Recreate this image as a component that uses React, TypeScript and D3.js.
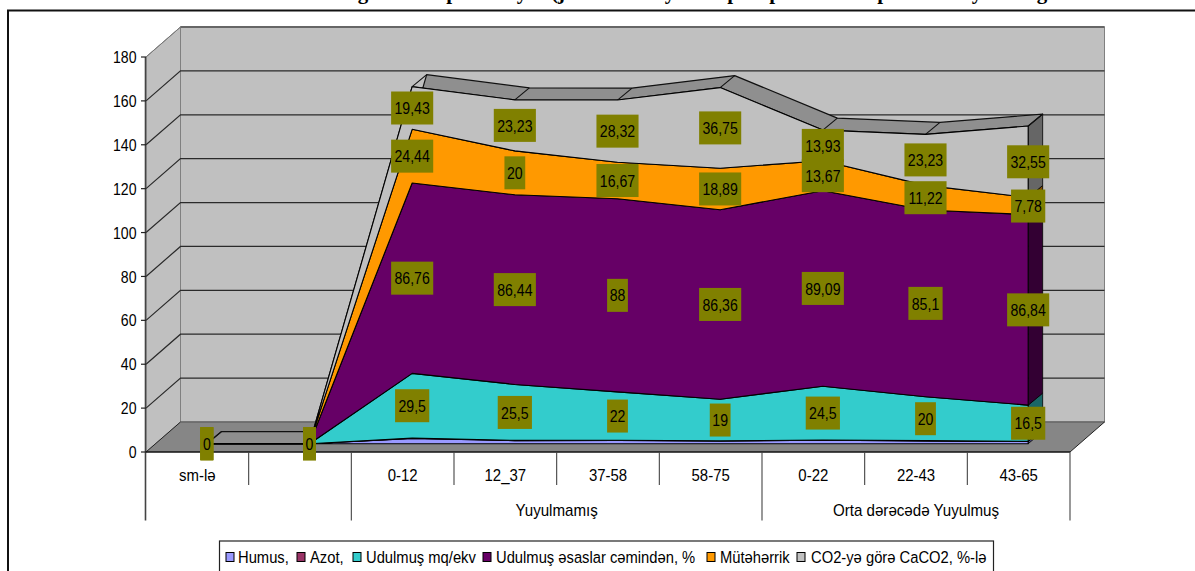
import React from "react";
import * as d3 from "d3";

const categories = ["sm-lə", "", "0-12", "12_37", "37-58", "58-75", "0-22", "22-43", "43-65"];
const groups = [
  { label: "", from: 0, to: 2 },
  { label: "Yuyulmamış", from: 2, to: 6 },
  { label: "Orta dərəcədə Yuyulmuş", from: 6, to: 9 },
];
const humus = [0, 0, 2.4, 1.4, 1.5, 1.2, 1.6, 1.3, 1.0];
const azot = [0, 0, 0.16, 0.1, 0.1, 0.08, 0.11, 0.09, 0.07];
const udulmus = [0, 0, 29.5, 25.5, 22, 19, 24.5, 20, 16.5];
const esaslar = [0, 0, 86.76, 86.44, 88, 86.36, 89.09, 85.1, 86.84];
const muteherrik = [0, 0, 24.44, 20, 16.67, 18.89, 13.67, 11.22, 7.78];
const caco2 = [0, 0, 19.43, 23.23, 28.32, 36.75, 13.93, 23.23, 32.55];
const seriesNames = ["Humus,", "Azot,", "Udulmuş mq/ekv", "Udulmuş əsaslar cəmindən, %", "Mütəhərrik", "CO2-yə görə CaCO2, %-lə"];
const seriesValues = [humus, azot, udulmus, esaslar, muteherrik, caco2];
const seriesColors = ["#9999FF", "#993366", "#33CCCC", "#660066", "#FF9900", "#C0C0C0"];
const sideColors = ["#4d4d80", "#4d1a33", "#1a6666", "#330033", "#804d00", "#666666"];
const labelledSeries = [2, 3, 4, 5];
const yTicks = [0, 20, 40, 60, 80, 100, 120, 140, 160, 180];
const titleBits: [string, number][] = [["g", 363], ["p", 452], ["y", 522], ["(j", 558], ["y", 670], ["p", 733], ["p", 775], ["p", 883], ["y", 977], ["g", 1042]];
const legendSwatchX = [226, 297, 353, 483, 707, 797];
const legendTextX = [238, 310, 366, 496, 720, 811];

const FRONT_L = 146, FRONT_R = 1070, FRONT_Y0 = 452, FRONT_Y180 = 57;
const WALL_DX = 34.5, WALL_DY = -30;
const FACE_DX = 9.5, FACE_DY = -8.3;
const STRIP_DX = 14.5, STRIP_DY = -12;
const FONT = "'Liberation Sans', Arial, sans-serif";

const xBand = d3.scaleBand<number>().domain(categories.map((_, i) => i)).range([FRONT_L, FRONT_R]);
const yScale = d3.scaleLinear().domain([0, 180]).range([FRONT_Y0, FRONT_Y180]);
const fx = (i: number) => (xBand(i) as number) + xBand.bandwidth() / 2 + FACE_DX;
const fy = (v: number) => yScale(v) + FACE_DY;

const table = categories.map((_, i) => {
  const row: Record<string, number> = { i };
  seriesValues.forEach((s, k) => (row["s" + k] = s[i]));
  return row;
});
const stacked = d3.stack<any>().keys(seriesValues.map((_, k) => "s" + k))(table);
const faceArea = d3.area<any>().x((d) => fx(d.data.i)).y0((d) => fy(d[0])).y1((d) => fy(d[1]));
const polyLine = d3.line<[number, number]>();

function Txt({ x, y, children, anchor = "middle", size = 17, sx = 0.83 }: any) {
  return (
    <text transform={`translate(${x},${y}) scale(${sx},1)`} textAnchor={anchor} dy="0.36em" fontSize={size} fontFamily={FONT} fill="#000">
      {children}
    </text>
  );
}

function boxWidth(t: string) {
  const digits = t.replace(",", "").length;
  return digits * 7.9 + (t.includes(",") ? 10.5 : 5);
}

export default function App() {
  const last = categories.length - 1;
  const top = stacked[stacked.length - 1];
  const topPts = top.map((d: any) => [fx(d.data.i), fy(d[1])] as [number, number]);
  const stripPath = polyLine([...topPts, ...topPts.slice().reverse().map(([x, y]) => [x + STRIP_DX, y + STRIP_DY] as [number, number])]) + "Z";
  const wallY = (v: number) => yScale(v) + WALL_DY;
  const wallL = FRONT_L + WALL_DX, wallR = FRONT_R + WALL_DX;
  const edges = d3.range(categories.length + 1).map((i) => FRONT_L + i * xBand.step());

  return (
    <svg width={1195} height={571} viewBox="0 0 1195 571" style={{ position: "absolute", left: 0, top: 0, display: "block", background: "#fff" }}>
      {titleBits.map(([t, x], i) => (
        <text key={i} x={x} y={-1.5} textAnchor="middle" fontFamily="'Liberation Serif', serif" fontWeight="bold" fontSize={21} fill="#000">{t}</text>
      ))}
      <path d="M8,572V10.5H1196" fill="none" stroke="#111" strokeWidth={2} />

      {/* walls and floor */}
      <rect x={wallL} y={wallY(180)} width={wallR - wallL} height={wallY(0) - wallY(180)} fill="#C0C0C0" stroke="#808080" />
      <path d={`M${FRONT_L},${yScale(0)}L${FRONT_L},${yScale(180)}L${wallL},${wallY(180)}L${wallL},${wallY(0)}Z`} fill="#C0C0C0" stroke="#808080" />
      <path d={`M${FRONT_L},${yScale(0)}L${wallL},${wallY(0)}L${wallR},${wallY(0)}L${FRONT_R},${yScale(0)}Z`} fill="#868686" />
      <path d={`M${wallL},${wallY(0)}H${wallR}`} stroke="#666" strokeWidth={1.5} />
      <path d={`M${wallL},${wallY(180)}H${wallR}`} stroke="#666" strokeWidth={2} />
      <path d={`M${FRONT_L},${yScale(0)}L${wallL},${wallY(0)}M${FRONT_R},${yScale(0)}L${wallR},${wallY(0)}`} stroke="#222" fill="none" />
      {yTicks.slice(1, -1).map((v) => (
        <path key={v} d={`M${FRONT_L},${yScale(v)}L${wallL},${wallY(v)}H${wallR}`} fill="none" stroke="#2a2a2a" strokeWidth={1.2} />
      ))}
      <path d={`M${FRONT_L},${yScale(180)}L${wallL},${wallY(180)}`} stroke="#777" />

      {/* end faces */}
      {stacked.map((s: any, k: number) => {
        const d = s[last];
        const x = fx(last);
        return <path key={k} d={`M${x},${fy(d[1])}L${x + STRIP_DX},${fy(d[1]) + STRIP_DY}L${x + STRIP_DX},${fy(d[0]) + STRIP_DY}L${x},${fy(d[0])}Z`} fill={sideColors[k]} stroke="#000" strokeWidth={0.8} />;
      })}
      {/* top of the last series */}
      <path d={stripPath} fill="#8f8f8f" stroke="#111" strokeWidth={1.2} strokeLinejoin="round" />
      {topPts.map(([x, y], i) => (
        <line key={i} x1={x} y1={y} x2={x + STRIP_DX} y2={y + STRIP_DY} stroke="#111" strokeWidth={1.1} />
      ))}
      {/* front faces */}
      {stacked.map((s: any, k: number) => (
        <path key={k} d={faceArea(s) as string} fill={seriesColors[k]} stroke="#000" strokeWidth={1.1} strokeLinejoin="round" />
      ))}

      {/* axes */}
      <path d={`M${FRONT_L - 0.5},${yScale(180)}V520.5`} stroke="#444" strokeWidth={1.6} fill="none" />
      <path d={`M${FRONT_L},${yScale(0)}H${FRONT_R}`} stroke="#111" strokeWidth={1.6} />
      {yTicks.map((v) => (
        <g key={v}>
          <line x1={FRONT_L - 5} x2={FRONT_L} y1={yScale(v)} y2={yScale(v)} stroke="#222" strokeWidth={1.2} />
          <Txt x={136.5} y={yScale(v)} anchor="end">{v}</Txt>
        </g>
      ))}
      {edges.slice(1).map((x, i) => (
        <line key={i} x1={x} x2={x} y1={yScale(0)} y2={485} stroke="#444" strokeWidth={1.1} />
      ))}
      {categories.map((c, i) => (
        <Txt key={i} x={(xBand(i) as number) + xBand.bandwidth() / 2} y={475} sx={0.88}>{c}</Txt>
      ))}
      {groups.map((g, i) => (
        <g key={i}>
          <line x1={edges[g.to]} x2={edges[g.to]} y1={485} y2={520.5} stroke="#444" strokeWidth={1.1} />
          <Txt x={(edges[g.from] + edges[g.to]) / 2} y={510} sx={0.89}>{g.label}</Txt>
        </g>
      ))}

      {/* value labels */}
      {labelledSeries.map((k) =>
        stacked[k].map((d: any, i: number) => {
          const t = String(seriesValues[k][i]).replace(".", ",");
          const w = boxWidth(t);
          const cy = (fy(d[0]) + fy(d[1])) / 2;
          return (
            <g key={k + "-" + i}>
              <rect x={fx(i) - w / 2} y={cy - 16.5} width={w} height={33} fill="#808000" />
              <Txt x={fx(i)} y={cy}>{t}</Txt>
            </g>
          );
        })
      )}

      {/* legend */}
      <rect x={219.5} y={541} width={774} height={40} fill="#fff" stroke="#222" strokeWidth={1.2} />
      {seriesNames.map((n, k) => (
        <g key={k}>
          <rect x={legendSwatchX[k]} y={552.5} width={8} height={9} fill={seriesColors[k]} stroke="#000" strokeWidth={1} />
          <Txt x={legendTextX[k]} y={557} anchor="start" size={16.5} sx={0.895}>{n}</Txt>
        </g>
      ))}
    </svg>
  );
}
